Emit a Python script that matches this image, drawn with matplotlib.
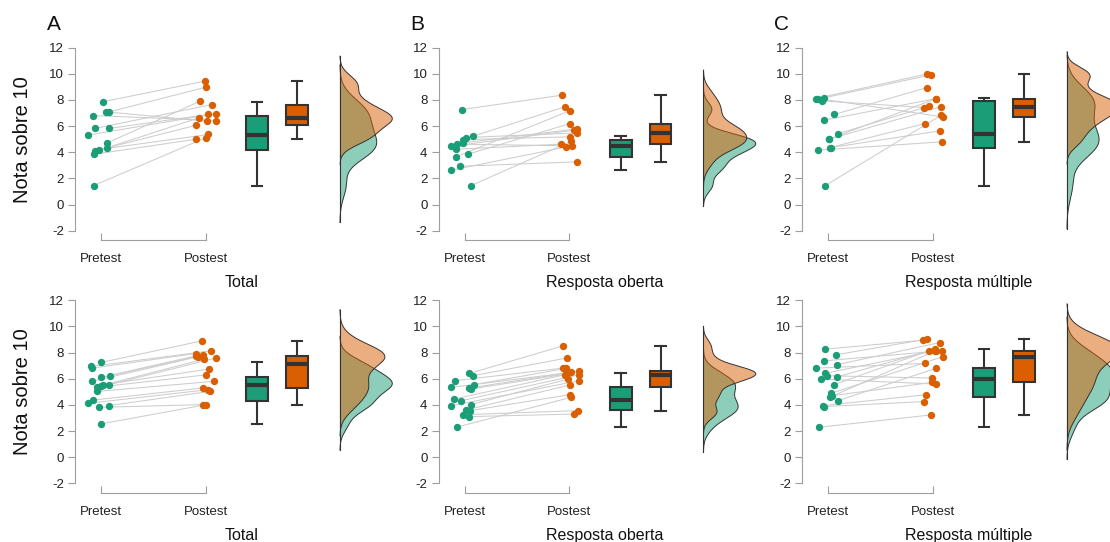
import numpy as np
import matplotlib
matplotlib.use('Agg')
import matplotlib.pyplot as plt

plt.rcParams['font.family'] = ['Liberation Sans', 'DejaVu Sans']
plt.rcParams['axes.unicode_minus'] = False

# values
panel_letters = ['A', 'B', 'C']
panel_titles = ['Total', 'Resposta oberta', 'Resposta múltiple']
conditions = ['Pretest', 'Postest']
y_label = 'Nota sobre 10'
y_ticks = [-2, 0, 2, 4, 6, 8, 10, 12]

# top row, one entry per student (pre[i] is paired with post[i])
pre_A = [7.86, 7.09, 7.09, 6.81, 5.82, 5.82, 5.31, 4.72, 4.34, 4.21, 4.10, 3.85, 1.45]
post_A = [9.44, 8.98, 6.38, 6.43, 7.65, 6.89, 6.96, 7.90, 6.63, 5.36, 6.07, 5.00, 5.13]

pre_B = [7.27, 5.23, 5.13, 4.97, 4.72, 4.62, 4.46, 4.23, 3.85, 3.65, 2.93, 2.63, 1.45]
post_B = [8.37, 7.47, 5.48, 5.18, 5.79, 4.49, 5.69, 4.62, 6.20, 7.17, 3.27, 4.41, 4.85]

pre_C = [8.11, 8.16, 7.93, 8.11, 6.89, 6.45, 5.43, 5.00, 5.00, 4.36, 4.36, 4.16, 1.45]
post_C = [10.0, 9.92, 7.42, 6.71, 8.95, 8.11, 7.52, 7.47, 8.11, 6.20, 5.64, 4.80, 6.84]

# bottom row
pre_D = [7.25, 6.94, 6.81, 6.23, 6.10, 5.80, 5.54, 5.54, 5.47, 5.34, 5.03, 4.37, 4.12, 3.94, 3.81, 2.54]
post_D = [8.90, 8.14, 7.93, 7.80, 7.75, 7.68, 7.58, 6.74, 7.50, 6.30, 5.80, 5.29, 5.16, 5.03, 4.02, 4.02]

pre_E = [6.41, 6.23, 5.85, 5.54, 5.34, 5.29, 5.21, 4.45, 4.32, 4.02, 3.94, 3.61, 3.56, 3.25, 3.10, 2.29]
post_E = [8.52, 7.58, 6.81, 6.79, 6.56, 6.48, 6.36, 6.30, 6.30, 5.98, 5.85, 5.52, 4.78, 3.56, 3.30, 4.58]

pre_F = [8.26, 7.83, 7.37, 7.07, 6.81, 6.41, 6.23, 6.15, 5.98, 5.54, 4.88, 4.70, 4.58, 4.32, 3.94, 3.87, 2.29]
post_F = [8.95, 9.03, 8.14, 8.77, 7.17, 8.14, 6.05, 8.24, 5.59, 8.14, 7.68, 5.72, 8.14, 6.79, 4.78, 4.25, 3.23]

rows = [
    [(pre_A, post_A), (pre_B, post_B), (pre_C, post_C)],
    [(pre_D, post_D), (pre_E, post_E), (pre_F, post_F)],
]

TEAL = '#1b9e77'
ORANGE = '#d95f02'
DARK = '#333333'
AXIS_GREY = '#9e9e9e'

W, H = 1110, 542


def kde(values):
    # gaussian density, bandwidth like R's bw.nrd0, cut at 3 bandwidths
    v = np.asarray(values, dtype=float)
    n = len(v)
    iqr = np.percentile(v, 75) - np.percentile(v, 25)
    bw = 0.9 * min(v.std(ddof=1), iqr / 1.34) * n ** -0.2
    grid = np.linspace(v.min() - 3 * bw, v.max() + 3 * bw, 512)
    z = (grid[:, None] - v[None, :]) / bw
    dens = np.exp(-0.5 * z ** 2).sum(axis=1) / (n * bw * np.sqrt(2 * np.pi))
    return grid, dens


def draw_panel(ax, pre, post, rng):
    pre = np.asarray(pre)
    post = np.asarray(post)
    x_pre = 1 + rng.uniform(-0.13, 0.10, len(pre))
    x_post = 2 + rng.uniform(-0.10, 0.10, len(post))

    for xa, xb, ya, yb in zip(x_pre, x_post, pre, post):
        ax.plot([xa, xb], [ya, yb], color='#cdcdcd', lw=0.75, zorder=1)
    ax.scatter(x_pre, pre, s=28, color=TEAL, linewidths=0, zorder=3)
    ax.scatter(x_post, post, s=28, color=ORANGE, linewidths=0, zorder=3)

    bp = ax.boxplot([pre, post], positions=[2.49, 2.87], widths=0.21,
                    patch_artist=True, showfliers=False, whis=1.5,
                    capwidths=0.1, manage_ticks=False,
                    boxprops=dict(edgecolor=DARK, linewidth=1.5),
                    medianprops=dict(color=DARK, linewidth=3),
                    whiskerprops=dict(color=DARK, linewidth=1.5),
                    capprops=dict(color=DARK, linewidth=1.5))
    for patch, c in zip(bp['boxes'], [TEAL, ORANGE]):
        patch.set_facecolor(c)

    # half violins
    base = 3.28
    curves = [kde(pre), kde(post)]
    scale = 0.5 / max(d.max() for _, d in curves)
    lo = min(g.min() for g, _ in curves)
    hi = max(g.max() for g, _ in curves)
    for (g, d), c in zip(curves, [TEAL, ORANGE]):
        ax.fill_betweenx(g, base, base + d * scale, facecolor=c, alpha=0.5,
                         edgecolor='none', zorder=2)
        ax.plot(base + d * scale, g, color=DARK, lw=0.7, zorder=2)
    ax.plot([base, base], [lo, hi], color=DARK, lw=0.8, zorder=2)


fig = plt.figure(figsize=(W / 100, H / 100), dpi=100)
rng = np.random.default_rng(7)

for r, row in enumerate(rows):
    for c, (pre, post) in enumerate(row):
        left = 75 + c * 363.5
        top = 47.7 + r * 252.6
        bottom = 230.7 + r * 252.6
        ax = fig.add_axes([left / W, 1 - bottom / H, 333 / W, (bottom - top) / H])
        draw_panel(ax, pre, post, rng)

        ax.set_xlim(0.75, 3.93)
        ax.set_ylim(-2, 12)
        for s in ['top', 'right']:
            ax.spines[s].set_visible(False)
        ax.spines['left'].set_color(AXIS_GREY)
        ax.spines['bottom'].set_color(AXIS_GREY)
        ax.spines['bottom'].set_bounds(1, 2)
        ax.spines['bottom'].set_position(('outward', 6.8))
        ax.set_yticks(y_ticks)
        ax.set_xticks([1, 2], conditions)
        ax.tick_params(axis='y', direction='out', length=5, color=AXIS_GREY,
                       labelsize=9.5, labelcolor='#222222', pad=3)
        ax.tick_params(axis='x', direction='in', length=5, color=AXIS_GREY,
                       labelsize=9.5, labelcolor='#222222', pad=9.5)
        ax.set_xlabel(panel_titles[c], fontsize=11.5, color='#111111', labelpad=7)
        if c == 0:
            ax.set_ylabel(y_label, fontsize=14.5, color='#111111', labelpad=12)
        if r == 0:
            fig.text((47 + c * 363.5) / W, 1 - 30 / H, panel_letters[c],
                     fontsize=15, color='#111111', ha='left', va='baseline')

fig.savefig('out.png', dpi=100)
